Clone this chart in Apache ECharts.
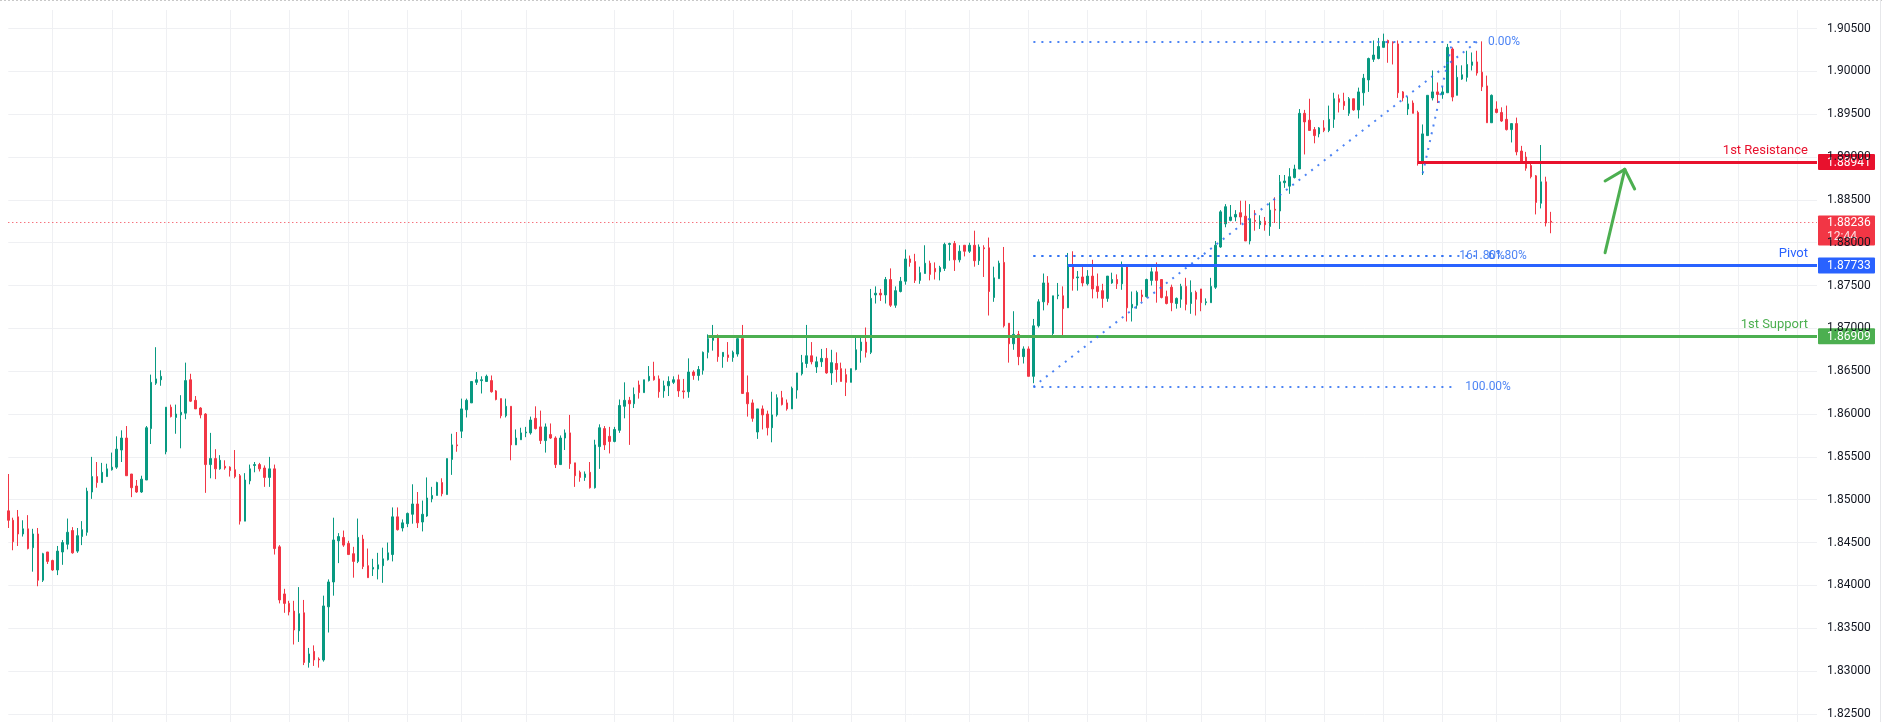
<!DOCTYPE html>
<html>
<head>
<meta charset="utf-8">
<title>Price chart with pivot levels</title>
<script src="https://cdn.jsdelivr.net/npm/echarts@6/dist/echarts.min.js"></script>
<style>
  html, body { margin: 0; padding: 0; background: #fff; }
  #chart { width: 1884px; height: 722px; }
</style>
</head>
<body>
<div id="chart"></div>
<script>
// candles: [open, close, low, high]
const ohlc = [
  [1.8487,1.8476,1.8467,1.8530],[1.8476,1.8451,1.8441,1.8479],[1.8480,1.8460,1.8446,1.8488],[1.8460,1.8466,1.8457,1.8476],
  [1.8466,1.8443,1.8442,1.8482],[1.8444,1.8460,1.8416,1.8466],[1.8460,1.8406,1.8399,1.8467],[1.8406,1.8437,1.8404,1.8438],
  [1.8439,1.8428,1.8425,1.8439],[1.8429,1.8418,1.8417,1.8430],[1.8418,1.8440,1.8412,1.8446],[1.8439,1.8450,1.8424,1.8453],
  [1.8448,1.8462,1.8442,1.8478],[1.8464,1.8438,1.8437,1.8468],[1.8440,1.8458,1.8438,1.8467],[1.8457,1.8465,1.8447,1.8475],
  [1.8462,1.8510,1.8458,1.8514],[1.8509,1.8527,1.8501,1.8550],[1.8527,1.8520,1.8514,1.8544],[1.8520,1.8532,1.8520,1.8543],
  [1.8527,1.8536,1.8527,1.8542],[1.8535,1.8538,1.8534,1.8555],[1.8538,1.8559,1.8536,1.8574],[1.8558,1.8572,1.8544,1.8581],
  [1.8572,1.8528,1.8528,1.8586],[1.8530,1.8514,1.8503,1.8530],[1.8516,1.8509,1.8508,1.8523],[1.8509,1.8524,1.8508,1.8528],
  [1.8523,1.8584,1.8523,1.8586],[1.8583,1.8637,1.8565,1.8646],[1.8636,1.8641,1.8634,1.8678],[1.8640,1.8644,1.8633,1.8651],
  [1.8556,1.8608,1.8553,1.8608],[1.8608,1.8597,1.8596,1.8611],[1.8596,1.8600,1.8577,1.8611],[1.8599,1.8602,1.8560,1.8622],
  [1.8601,1.8639,1.8594,1.8660],[1.8640,1.8615,1.8614,1.8647],[1.8616,1.8606,1.8606,1.8621],[1.8607,1.8599,1.8595,1.8608],
  [1.8600,1.8541,1.8508,1.8601],[1.8541,1.8548,1.8525,1.8578],[1.8548,1.8536,1.8524,1.8559],[1.8536,1.8546,1.8535,1.8552],
  [1.8539,1.8537,1.8535,1.8546],[1.8538,1.8534,1.8527,1.8539],[1.8535,1.8527,1.8525,1.8558],[1.8528,1.8475,1.8471,1.8530],
  [1.8475,1.8523,1.8475,1.8531],[1.8522,1.8536,1.8518,1.8541],[1.8540,1.8541,1.8532,1.8544],[1.8541,1.8536,1.8533,1.8543],
  [1.8537,1.8526,1.8515,1.8540],[1.8526,1.8536,1.8515,1.8550],[1.8536,1.8443,1.8436,1.8541],[1.8445,1.8383,1.8379,1.8447],
  [1.8390,1.8379,1.8368,1.8396],[1.8379,1.8369,1.8365,1.8382],[1.8370,1.8348,1.8331,1.8382],[1.8347,1.8367,1.8334,1.8398],
  [1.8368,1.8310,1.8307,1.8383],[1.8310,1.8320,1.8304,1.8327],[1.8323,1.8313,1.8306,1.8330],[1.8314,1.8313,1.8304,1.8316],
  [1.8313,1.8376,1.8311,1.8388],[1.8375,1.8404,1.8345,1.8407],[1.8404,1.8453,1.8388,1.8479],[1.8452,1.8457,1.8426,1.8461],
  [1.8456,1.8447,1.8445,1.8464],[1.8449,1.8436,1.8436,1.8452],[1.8437,1.8428,1.8409,1.8445],[1.8428,1.8456,1.8426,1.8478],
  [1.8454,1.8422,1.8419,1.8459],[1.8423,1.8409,1.8409,1.8443],[1.8419,1.8421,1.8411,1.8431],[1.8419,1.8424,1.8407,1.8438],
  [1.8423,1.8431,1.8403,1.8444],[1.8430,1.8438,1.8429,1.8450],[1.8436,1.8480,1.8428,1.8491],[1.8480,1.8465,1.8464,1.8491],
  [1.8467,1.8473,1.8463,1.8477],[1.8472,1.8484,1.8468,1.8485],[1.8483,1.8495,1.8472,1.8518],[1.8495,1.8473,1.8467,1.8509],
  [1.8474,1.8483,1.8463,1.8499],[1.8481,1.8502,1.8480,1.8526],[1.8501,1.8505,1.8497,1.8515],[1.8505,1.8520,1.8505,1.8521],
  [1.8520,1.8507,1.8504,1.8525],[1.8506,1.8548,1.8506,1.8548],[1.8547,1.8564,1.8529,1.8577],[1.8564,1.8563,1.8556,1.8579],
  [1.8580,1.8606,1.8572,1.8618],[1.8605,1.8616,1.8596,1.8618],[1.8613,1.8638,1.8613,1.8638],[1.8637,1.8640,1.8634,1.8649],
  [1.8639,1.8640,1.8624,1.8644],[1.8638,1.8644,1.8638,1.8646],[1.8639,1.8626,1.8625,1.8645],[1.8627,1.8617,1.8616,1.8628],
  [1.8618,1.8598,1.8595,1.8618],[1.8598,1.8609,1.8596,1.8618],[1.8609,1.8564,1.8546,1.8609],[1.8564,1.8572,1.8564,1.8582],
  [1.8570,1.8578,1.8570,1.8584],[1.8578,1.8579,1.8573,1.8585],[1.8578,1.8593,1.8576,1.8597],[1.8595,1.8583,1.8582,1.8609],
  [1.8585,1.8569,1.8565,1.8604],[1.8569,1.8585,1.8555,1.8589],[1.8576,1.8572,1.8571,1.8589],[1.8572,1.8541,1.8537,1.8574],
  [1.8541,1.8572,1.8541,1.8575],[1.8572,1.8578,1.8558,1.8582],[1.8578,1.8542,1.8536,1.8599],[1.8543,1.8528,1.8515,1.8543],
  [1.8532,1.8526,1.8521,1.8534],[1.8526,1.8530,1.8522,1.8533],[1.8532,1.8514,1.8513,1.8544],[1.8514,1.8564,1.8513,1.8570],
  [1.8562,1.8584,1.8536,1.8588],[1.8583,1.8564,1.8558,1.8586],[1.8574,1.8568,1.8554,1.8585],[1.8568,1.8582,1.8567,1.8585],
  [1.8581,1.8610,1.8578,1.8617],[1.8609,1.8616,1.8595,1.8637],[1.8616,1.8612,1.8564,1.8620],[1.8612,1.8623,1.8607,1.8631],
  [1.8634,1.8625,1.8618,1.8639],[1.8625,1.8640,1.8625,1.8640],[1.8639,1.8644,1.8638,1.8656],[1.8644,1.8640,1.8639,1.8661],
  [1.8641,1.8626,1.8619,1.8645],[1.8627,1.8633,1.8619,1.8639],[1.8633,1.8638,1.8621,1.8644],[1.8637,1.8640,1.8635,1.8644],
  [1.8640,1.8627,1.8620,1.8646],[1.8627,1.8626,1.8618,1.8641],[1.8626,1.8649,1.8619,1.8665],[1.8649,1.8645,1.8640,1.8651],
  [1.8645,1.8652,1.8639,1.8656],[1.8651,1.8672,1.8646,1.8673],[1.8672,1.8688,1.8665,1.8693],[1.8686,1.8690,1.8674,1.8704],
  [1.8690,1.8667,1.8661,1.8693],[1.8667,1.8672,1.8654,1.8672],[1.8669,1.8666,1.8661,1.8684],[1.8666,1.8672,1.8661,1.8674],
  [1.8670,1.8688,1.8667,1.8690],[1.8688,1.8624,1.8624,1.8704],[1.8625,1.8612,1.8597,1.8645],[1.8613,1.8595,1.8591,1.8617],
  [1.8579,1.8606,1.8571,1.8606],[1.8606,1.8599,1.8582,1.8610],[1.8600,1.8584,1.8575,1.8604],[1.8584,1.8599,1.8567,1.8626],
  [1.8599,1.8619,1.8597,1.8623],[1.8619,1.8611,1.8610,1.8627],[1.8613,1.8606,1.8604,1.8617],[1.8606,1.8630,1.8606,1.8632],
  [1.8628,1.8648,1.8618,1.8648],[1.8647,1.8660,1.8645,1.8669],[1.8659,1.8668,1.8654,1.8704],[1.8668,1.8661,1.8658,1.8684],
  [1.8655,1.8661,1.8648,1.8667],[1.8661,1.8665,1.8655,1.8676],[1.8665,1.8648,1.8647,1.8677],[1.8648,1.8660,1.8634,1.8675],
  [1.8659,1.8652,1.8637,1.8672],[1.8653,1.8638,1.8638,1.8660],[1.8646,1.8637,1.8621,1.8653],[1.8637,1.8653,1.8637,1.8653],
  [1.8652,1.8675,1.8651,1.8690],[1.8674,1.8684,1.8660,1.8690],[1.8684,1.8672,1.8666,1.8701],[1.8672,1.8735,1.8670,1.8746],
  [1.8739,1.8741,1.8729,1.8749],[1.8741,1.8739,1.8732,1.8746],[1.8739,1.8757,1.8729,1.8760],[1.8757,1.8727,1.8725,1.8770],
  [1.8727,1.8744,1.8724,1.8749],[1.8743,1.8755,1.8742,1.8760],[1.8755,1.8781,1.8751,1.8792],[1.8781,1.8777,1.8772,1.8785],
  [1.8778,1.8756,1.8753,1.8787],[1.8756,1.8765,1.8752,1.8772],[1.8764,1.8776,1.8764,1.8797],[1.8776,1.8763,1.8756,1.8779],
  [1.8770,1.8766,1.8757,1.8777],[1.8766,1.8771,1.8756,1.8773],[1.8770,1.8798,1.8767,1.8800],[1.8798,1.8799,1.8779,1.8800],
  [1.8799,1.8780,1.8767,1.8802],[1.8780,1.8790,1.8777,1.8797],[1.8797,1.8790,1.8784,1.8797],[1.8790,1.8797,1.8788,1.8800],
  [1.8797,1.8779,1.8772,1.8814],[1.8779,1.8795,1.8774,1.8798],[1.8794,1.8793,1.8760,1.8797],[1.8794,1.8743,1.8715,1.8806],
  [1.8736,1.8759,1.8731,1.8772],[1.8758,1.8776,1.8758,1.8779],[1.8777,1.8703,1.8701,1.8795],[1.8706,1.8682,1.8660,1.8706],
  [1.8682,1.8693,1.8675,1.8720],[1.8693,1.8667,1.8657,1.8697],[1.8667,1.8676,1.8659,1.8679],[1.8676,1.8644,1.8644,1.8679],
  [1.8644,1.8703,1.8636,1.8711],[1.8703,1.8731,1.8701,1.8734],[1.8731,1.8753,1.8721,1.8764],[1.8753,1.8730,1.8727,1.8761],
  [1.8694,1.8738,1.8690,1.8738],[1.8738,1.8739,1.8734,1.8753],[1.8738,1.8723,1.8692,1.8749],[1.8724,1.8773,1.8724,1.8788],
  [1.8772,1.8758,1.8744,1.8790],[1.8759,1.8760,1.8744,1.8767],[1.8760,1.8753,1.8749,1.8772],[1.8752,1.8761,1.8750,1.8768],
  [1.8761,1.8746,1.8735,1.8780],[1.8749,1.8743,1.8735,1.8764],[1.8744,1.8735,1.8724,1.8752],[1.8735,1.8761,1.8731,1.8761],
  [1.8753,1.8757,1.8752,1.8765],[1.8757,1.8752,1.8746,1.8763],[1.8752,1.8771,1.8745,1.8778],[1.8773,1.8724,1.8708,1.8774],
  [1.8724,1.8728,1.8708,1.8743],[1.8727,1.8742,1.8723,1.8744],[1.8739,1.8737,1.8731,1.8745],[1.8737,1.8757,1.8736,1.8758],
  [1.8756,1.8766,1.8750,1.8771],[1.8766,1.8756,1.8730,1.8777],[1.8757,1.8736,1.8735,1.8757],[1.8737,1.8729,1.8728,1.8744],
  [1.8748,1.8730,1.8720,1.8751],[1.8729,1.8735,1.8723,1.8736],[1.8734,1.8749,1.8724,1.8752],[1.8749,1.8728,1.8721,1.8759],
  [1.8729,1.8742,1.8717,1.8756],[1.8742,1.8734,1.8715,1.8744],[1.8746,1.8730,1.8720,1.8746],[1.8730,1.8731,1.8727,1.8735],
  [1.8730,1.8749,1.8730,1.8759],[1.8748,1.8797,1.8746,1.8802],[1.8795,1.8836,1.8794,1.8838],[1.8822,1.8842,1.8818,1.8845],
  [1.8826,1.8830,1.8825,1.8844],[1.8830,1.8833,1.8825,1.8838],[1.8835,1.8830,1.8821,1.8849],[1.8831,1.8802,1.8802,1.8849],
  [1.8802,1.8828,1.8798,1.8845],[1.8826,1.8825,1.8814,1.8838],[1.8821,1.8825,1.8816,1.8832],[1.8825,1.8821,1.8814,1.8830],
  [1.8819,1.8838,1.8808,1.8847],[1.8839,1.8838,1.8823,1.8853],[1.8837,1.8871,1.8816,1.8879],[1.8870,1.8872,1.8864,1.8879],
  [1.8866,1.8877,1.8857,1.8887],[1.8876,1.8886,1.8875,1.8891],[1.8886,1.8951,1.8886,1.8956],[1.8951,1.8941,1.8903,1.8955],
  [1.8943,1.8931,1.8931,1.8968],[1.8932,1.8925,1.8916,1.8935],[1.8927,1.8934,1.8923,1.8935],[1.8934,1.8931,1.8929,1.8943],
  [1.8931,1.8944,1.8929,1.8960],[1.8944,1.8968,1.8934,1.8975],[1.8968,1.8964,1.8952,1.8973],[1.8965,1.8960,1.8955,1.8975],
  [1.8951,1.8968,1.8948,1.8970],[1.8968,1.8955,1.8954,1.8968],[1.8955,1.8976,1.8945,1.8981],[1.8975,1.8992,1.8960,1.8997],
  [1.8990,1.9015,1.8976,1.9016],[1.9014,1.9019,1.9011,1.9036],[1.9015,1.9029,1.9014,1.9039],[1.9028,1.9035,1.9028,1.9044],
  [1.9036,1.9033,1.9010,1.9037],[1.9034,1.9033,1.9008,1.9035],[1.9032,1.8975,1.8969,1.9036],[1.8976,1.8969,1.8965,1.8977],
  [1.8956,1.8962,1.8949,1.8970],[1.8963,1.8951,1.8951,1.8966],[1.8952,1.8893,1.8890,1.8954],[1.8893,1.8927,1.8879,1.8938],
  [1.8925,1.8972,1.8925,1.8972],[1.8969,1.8976,1.8966,1.9001],[1.8976,1.8973,1.8963,1.8987],[1.8973,1.8976,1.8968,1.8982],
  [1.8975,1.9028,1.8975,1.9032],[1.9026,1.8970,1.8965,1.9028],[1.8972,1.8993,1.8972,1.9007],[1.8991,1.8996,1.8990,1.9007],
  [1.8993,1.9008,1.8988,1.9024],[1.9007,1.9011,1.9001,1.9022],[1.9011,1.8998,1.8995,1.9024],[1.8999,1.8982,1.8977,1.9035],
  [1.8983,1.8940,1.8940,1.8995],[1.8940,1.8972,1.8940,1.8973],[1.8956,1.8952,1.8951,1.8965],[1.8952,1.8942,1.8941,1.8958],
  [1.8944,1.8932,1.8931,1.8960],[1.8932,1.8939,1.8917,1.8939],[1.8939,1.8906,1.8902,1.8946],[1.8907,1.8893,1.8892,1.8913],
  [1.8900,1.8887,1.8884,1.8906],[1.8890,1.8877,1.8875,1.8895],[1.8878,1.8847,1.8833,1.8879],[1.8846,1.8871,1.8840,1.8914],
  [1.8871,1.8823,1.8819,1.8877],[1.8825,1.8824,1.8811,1.8836]
];

// empty bars kept to the right of the last candle
const futureBars = 54;

// bar indexes where the vertical (session) grid lines fall
const sessionBars = [9, 21, 32, 45, 57, 69, 81, 92, 105, 123, 135, 147, 159, 171, 182, 195, 207,
  219, 231, 242, 255, 267, 279, 291, 302, 315, 327, 339, 351, 363];

// price axis ticks
const priceMin = 1.825;
const priceMax = 1.905;
const priceStep = 0.005;

// horizontal levels
const levelNames = ['1st Resistance', 'Pivot', '1st Support'];
const levelPrices = [1.88941, 1.87733, 1.86909];
const levelStartBar = [286, 215, 142];

const lastPrice = 1.88236;
const countdown = '12:44';

// fibonacci drawings (bar, price)
const fibA = { from: 208, to: 298, prices: [1.90346, 1.87848], labels: ['0.00%', '61.80%'] };
const fibB = { from: 208, to: 294, prices: [1.86319, 1.87848], labels: ['100.00%', '161.80%'] };
const fibTrend = [[208, 1.86319], [298, 1.90346]];
const fibLeg = [[287, 1.88810], [293, 1.90346]];

// hand-drawn arrow (bar, price)
const arrowTail = [324, 1.87883];
const arrowHead = [328, 1.88856];
const arrowWings = [[324, 1.88720], [330, 1.88627]];

const UP = '#089981';
const DOWN = '#f23645';
const levelColors = ['#e8112d', '#2962ff', '#4caf50'];
const FIB = '#2e6ff2';
const FONT = 'Roboto, "Noto Sans", sans-serif';

const categories = [];
for (let i = 0; i < ohlc.length + futureBars; i++) categories.push(String(i));
const lastBar = categories.length - 1;

const chart = echarts.init(document.getElementById('chart'));

const GRID_LEFT = 8.3;
const GRID_RIGHT = 67;

function seg(a, b, lineStyle, label) {
  return [
    { coord: a, lineStyle: lineStyle, label: label || { show: false } },
    { coord: b }
  ];
}

const dotted = { color: FIB, width: 2, type: [2, 6], opacity: 0.85 };
const fibLabel = (text, dist) => ({
  show: true, position: 'end', distance: dist, formatter: text,
  color: FIB, fontSize: 12, fontFamily: FONT
});

const markLines = [];
// current price line
markLines.push({
  yAxis: lastPrice,
  lineStyle: { color: DOWN, width: 1, type: [1, 3] },
  label: { show: false }
});
// support / resistance
levelPrices.forEach((p, i) => {
  markLines.push(seg([levelStartBar[i], p], [lastBar, p],
    { color: levelColors[i], width: 3, type: 'solid' },
    { show: true, position: 'insideEndTop', distance: [9, 5], formatter: levelNames[i],
      color: levelColors[i], fontSize: 13, fontFamily: FONT }));
});
// fib levels
fibA.prices.forEach((p, i) => {
  markLines.push(seg([fibA.from, p], [fibA.to, p], dotted, fibLabel(fibA.labels[i], 11)));
});
fibB.prices.forEach((p, i) => {
  markLines.push(seg([fibB.from, p], [fibB.to, p], dotted, fibLabel(fibB.labels[i], i === 0 ? 8 : 2)));
});
markLines.push(seg(fibTrend[0], fibTrend[1], dotted));
markLines.push(seg(fibLeg[0], fibLeg[1], dotted));
// arrow
const arrowStyle = { color: '#4caf50', width: 3, type: 'solid', cap: 'round' };
markLines.push(seg(arrowTail, arrowHead, arrowStyle));
arrowWings.forEach(w => markLines.push(seg(w, arrowHead, arrowStyle)));

const option = {
  backgroundColor: '#ffffff',
  animation: false,
  textStyle: { fontFamily: FONT },
  grid: [
    { left: GRID_LEFT, right: GRID_RIGHT, top: 28.5, bottom: 8.1 },
    { left: GRID_LEFT, right: GRID_RIGHT, top: 10, bottom: 0 }
  ],
  xAxis: [
    {
      type: 'category', gridIndex: 0, data: categories, boundaryGap: false,
      axisLine: { show: false }, axisTick: { show: false }, axisLabel: { show: false },
      splitLine: { show: false }
    },
    {
      type: 'category', gridIndex: 1, data: categories, boundaryGap: false,
      axisLine: { show: false }, axisTick: { show: false }, axisLabel: { show: false },
      splitLine: {
        show: true,
        interval: (idx) => sessionBars.indexOf(idx) >= 0,
        lineStyle: { color: '#eff0f3', width: 1 }
      }
    }
  ],
  yAxis: [
    {
      type: 'value', gridIndex: 0, position: 'right', scale: true,
      min: priceMin, max: priceMax, interval: priceStep,
      axisLine: { show: false }, axisTick: { show: false },
      axisLabel: {
        margin: 10, color: '#131722', fontSize: 12, fontFamily: FONT,
        formatter: v => v.toFixed(5)
      },
      splitLine: { lineStyle: { color: '#eff0f3', width: 1 } }
    },
    { type: 'value', gridIndex: 1, show: false }
  ],
  series: [
    {
      type: 'candlestick',
      xAxisIndex: 0, yAxisIndex: 0,
      data: ohlc,
      barWidth: 2,
      clip: false,
      itemStyle: {
        color: UP, color0: DOWN,
        borderColor: UP, borderColor0: DOWN,
        borderWidth: 1
      },
      markLine: {
        silent: true,
        symbol: ['none', 'none'],
        precision: 5,
        animation: false,
        data: markLines
      }
    }
  ]
};

chart.setOption(option);

// price tags on the right scale
const axisX = chart.getWidth() - GRID_RIGHT;
function priceTag(price, fill, sub) {
  const y = chart.convertToPixel({ yAxisIndex: 0 }, price);
  const els = [
    { type: 'rect', shape: { x: axisX + 1, y: sub ? y - 7 : y - 8, width: 57, height: sub ? 30 : 16, r: 1 },
      style: { fill: fill } },
    { type: 'text', x: axisX + 10, y: y + 0.5,
      style: { text: price.toFixed(5), fill: '#ffffff', font: '12px ' + FONT, verticalAlign: 'middle' } }
  ];
  if (sub) {
    els.push({ type: 'text', x: axisX + 10, y: y + 15,
      style: { text: sub, fill: 'rgba(255,255,255,0.85)', font: '12px ' + FONT, verticalAlign: 'middle' } });
  }
  return { type: 'group', z: 100, children: els };
}

const tags = [];
levelPrices.forEach((p, i) => tags.push(priceTag(p, levelColors[i])));
tags.push(priceTag(lastPrice, DOWN, countdown));
// frame lines of the chart pane
tags.push({ type: 'line', z: 100, shape: { x1: 0, y1: 0.5, x2: chart.getWidth(), y2: 0.5 },
  style: { stroke: '#c8c8c8', lineWidth: 1, lineDash: [2, 2] } });
tags.push({ type: 'line', z: 100, shape: { x1: 1880.5, y1: 0, x2: 1880.5, y2: chart.getHeight() },
  style: { stroke: '#e6e7ea', lineWidth: 1 } });

chart.setOption({ graphic: tags });

window.addEventListener('resize', () => chart.resize());
</script>
</body>
</html>
